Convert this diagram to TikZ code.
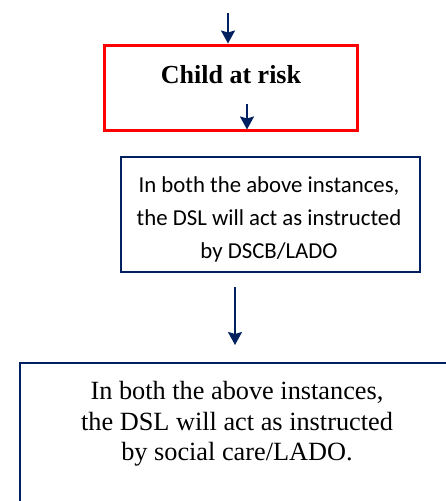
\documentclass[tikz,border=0pt]{standalone}
\usepackage{fontspec}
\setmainfont{Liberation Serif}
\newfontfamily\calibrifont{Carlito}
\usetikzlibrary{arrows.meta, positioning}
\definecolor{navy}{RGB}{0,32,96}
\definecolor{alertred}{RGB}{255,0,0}

\begin{document}
\begin{tikzpicture}[x=1pt, y=-1pt,
  flowarrow/.style={navy, line width=2pt, -{Stealth[length=13pt, width=14pt, inset=2pt]}},
  navybox/.style={draw=navy, line width=2pt, rectangle, inner sep=0pt}]
  \useasboundingbox (0,0) rectangle (446,501);
  \clip (0,0) rectangle (446,501);
  % red box
  \node[draw=alertred, line width=3pt, minimum width=253pt, minimum height=85pt, inner sep=0pt] (risk) at (230.5,87.5) {};
  \node[font=\fontsize{26}{30}\selectfont\bfseries] (risktxt) at (231,75) {Child at risk};
  \coordinate (in1) at (228,13);
  \coordinate (out1) at (247,104);
  \draw[flowarrow] (in1) -- (in1 |- risk.north);
  \draw[flowarrow, shorten >=2pt] (out1) -- (out1 |- risk.south);
  % DSCB box
  \node[navybox, minimum width=299pt, minimum height=115pt] (dscb) at (270.5,214.5) {};
  \node[align=center, font=\calibrifont\fontsize{22.8}{33}\selectfont] (dscbtxt) at (269,219)
        {In both the above instances,\\the DSL will act as instructed\\by DSCB/LADO};
  \coordinate (mid) at (235,287);
  \coordinate (midend) at (235,345);
  \draw[flowarrow] (mid) -- (midend);
  % social care box (runs off the page)
  \node[navybox, line width=2.5pt, minimum width=434pt, minimum height=170pt] (care) at (237,448) {};
  \node[font=\fontsize{26.3}{30.5}\selectfont, align=center] (caretxt) at (237,424)
        {In both the above instances,\\the DSL will act as instructed\\by social care/LADO.};
\end{tikzpicture}
\end{document}
